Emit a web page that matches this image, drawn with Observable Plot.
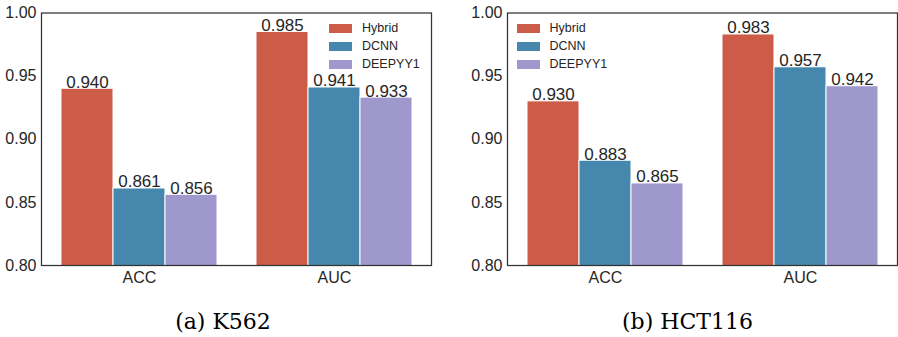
<!DOCTYPE html>
<html><head><meta charset="utf-8">
<script src="https://cdn.jsdelivr.net/npm/d3@7"></script>
<script src="https://cdn.jsdelivr.net/npm/@observablehq/plot@0.6"></script>
<style>
body{margin:0;background:#fff;}
#root{position:relative;width:898px;height:337px;overflow:hidden;background:#fff;}
.panel{position:absolute;top:0;}
.cap{position:absolute;top:311px;font-family:"DejaVu Serif",serif;font-size:22px;line-height:22px;color:#000;white-space:nowrap;transform:translateX(-50%);}
.lgwrap{position:absolute;top:19px;}
.lg-swatches{margin:0 !important;min-height:0 !important;}
.lg-swatch{height:18.2px !important;padding:0 !important;margin:0 !important;display:flex !important;align-items:center !important;}
.lg-swatch svg{margin-right:10px !important;}
</style></head><body><div id="root"></div>
<script>
const metrics = ["ACC", "AUC"];
const models = ["Hybrid", "DCNN", "DEEPYY1"];
const colors = ["#CC5B48", "#4587AD", "#9F98CC"];
const k562Hybrid = [0.940, 0.985];
const k562DCNN = [0.861, 0.941];
const k562DEEPYY1 = [0.856, 0.933];
const hct116Hybrid = [0.930, 0.983];
const hct116DCNN = [0.883, 0.957];
const hct116DEEPYY1 = [0.865, 0.942];
const yTicks = [0.80, 0.85, 0.90, 0.95, 1.00];
const captions = ["(a) K562", "(b) HCT116"];

const root = document.getElementById("root");
const font = "'Liberation Sans', Arial, sans-serif";

function panel(series, left, width, marginRight, legendLeft, caption, capX) {
  const ml = 41;
  const plotW = width - ml - marginRight;
  const barW = plotW * 0.8 / 2 / 3;
  const data = metrics.flatMap((m, i) => models.map((s, j) => ({metric: m, model: s, value: series[j][i]})));
  const chart = Plot.plot({
    width, height: 290,
    marginLeft: ml, marginRight, marginTop: 12.5, marginBottom: 25,
    style: {fontFamily: font, fontSize: "16px", color: "#262626", background: "transparent", overflow: "visible"},
    x: {domain: metrics, paddingInner: 0.2, paddingOuter: 0.1, label: null, tickSize: 0, tickPadding: 6},
    y: {domain: [0.8, 1.0], ticks: yTicks, tickFormat: ".2f", label: null, tickSize: 0, tickPadding: 5},
    color: {domain: models, range: colors},
    marks: [
      ...models.map((s, j) => Plot.barY(data.filter(d => d.model === s), {
        x: "metric", y: "value", fill: "model", stroke: "white", strokeWidth: 1,
        insetLeft: j * barW, insetRight: (2 - j) * barW, clip: true
      })),
      ...models.map((s, j) => Plot.text(data.filter(d => d.model === s), {
        x: "metric", y: "value", text: d => d.value.toFixed(3), dx: (j - 1) * barW,
        lineAnchor: "bottom", dy: -1, fontSize: 17, fill: "#262626"
      })),
      Plot.frame({stroke: "#333", strokeWidth: 1.25})
    ]
  });
  const div = document.createElement("div");
  div.className = "panel";
  div.style.left = left + "px";
  div.appendChild(chart);
  root.appendChild(div);

  const lg = Plot.legend({
    legend: "swatches", color: {domain: models, range: colors}, columns: 1,
    swatchWidth: 23, swatchHeight: 9, className: "lg",
    style: {fontFamily: font, fontSize: "12.5px", color: "#262626"}
  });
  const lw = document.createElement("div");
  lw.className = "lgwrap";
  lw.style.left = legendLeft + "px";
  lw.appendChild(lg);
  root.appendChild(lw);

  const cap = document.createElement("div");
  cap.className = "cap";
  cap.style.left = capX + "px";
  cap.textContent = caption;
  root.appendChild(cap);
}

panel([k562Hybrid, k562DCNN, k562DEEPYY1], 0, 466, 35, 329, captions[0], 223);
panel([hct116Hybrid, hct116DCNN, hct116DEEPYY1], 466, 432, 1, 516.5, captions[1], 687.5);
</script></body></html>
